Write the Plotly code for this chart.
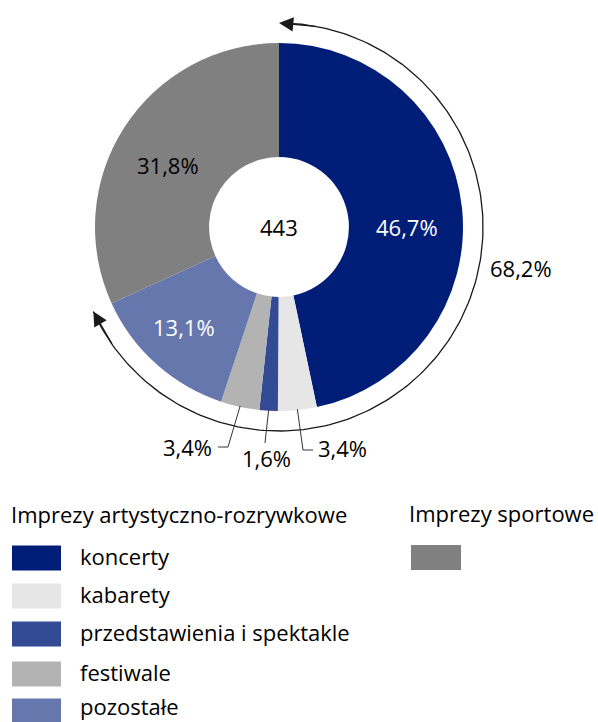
import numpy as np
import plotly.graph_objects as go

# data
categories = ["koncerty", "kabarety", "przedstawienia i spektakle", "festiwale", "pozostałe", "Imprezy sportowe"]
shares = [46.7, 3.4, 1.6, 3.4, 13.1, 31.8]
colors = ["#001e78", "#e6e6e6", "#334a94", "#b3b3b3", "#6677ad", "#808080"]
total_events = 443
group_artistic = "Imprezy artystyczno-rozrywkowe"
group_sport = "Imprezy sportowe"
artistic_share = sum(shares[:5])

FONT = "Open Sans"
FS = 22
W, H = 598, 722
cx, cy, R = 279, 227, 184
hole = 0.38
arc_r = 204


def fmt(v):
    return f"{v:.1f}".replace(".", ",") + "%"


def polar(frac, r):
    # frac = fraction of circle clockwise from 12 o'clock
    a = np.pi / 2 - 2 * np.pi * frac
    return cx + r * np.cos(a), cy - r * np.sin(a)


fig = go.Figure()
fig.add_trace(go.Pie(
    labels=categories, values=shares, sort=False, direction="clockwise",
    rotation=0, hole=hole,
    marker=dict(colors=colors, line=dict(width=0)),
    textinfo="none",
    domain=dict(x=[(cx - R) / W, (cx + R) / W], y=[1 - (cy + R) / H, 1 - (cy - R) / H]),
    showlegend=False, hoverinfo="label+value",
))

# arc over the artistic group
t = np.linspace(0.004, artistic_share / 100, 200)
ax_, ay_ = polar(t, arc_r)
fig.add_trace(go.Scatter(x=ax_, y=ay_, mode="lines", line=dict(color="#1a1a1a", width=1.3),
                         showlegend=False, hoverinfo="skip"))

annotations = []
for tip, tail in [(0.0, 0.03), (artistic_share / 100, artistic_share / 100 - 0.03)]:
    tx, ty = polar(tip, arc_r)
    bx, by = polar(tail, arc_r)
    annotations.append(dict(x=tx, y=ty, ax=bx, ay=by, xref="x", yref="y", axref="x", ayref="y",
                            showarrow=True, arrowhead=2, arrowsize=2.2, arrowwidth=1.3,
                            arrowcolor="#1a1a1a", text="", standoff=0))

annotations.append(dict(x=488, y=268, xref="x", yref="y", text=fmt(artistic_share), showarrow=False,
                        xanchor="left", font=dict(family=FONT, size=FS, color="black")))
annotations.append(dict(x=cx, y=cy, xref="x", yref="y", text=str(total_events), showarrow=False,
                        font=dict(family=FONT, size=FS, color="black")))

# labels inside the large slices
inside_pos = {0: ((407, 227), "white"), 4: ((184, 327), "white"), 5: ((168, 165), "black")}
for i, (pos, col) in inside_pos.items():
    annotations.append(dict(x=pos[0], y=pos[1], xref="x", yref="y", text=fmt(shares[i]),
                            showarrow=False, font=dict(family=FONT, size=FS, color=col)))

# small slices: leader lines and outside labels
shapes = []
cum = np.cumsum([0] + shares)
leader = {1: dict(bend=(303, 450), end=(313, 450), lab=(316, 448), anchor="left"),
          2: dict(bend=(265, 443), end=None, lab=(266, 458), anchor="center"),
          3: dict(bend=(228, 447), end=(218, 447), lab=(214, 447), anchor="right")}
for i, cfg in leader.items():
    mid = (cum[i] + shares[i] / 2) / 100
    sx, sy = polar(mid, R - 1)
    pts = [(sx, sy), cfg["bend"]] + ([cfg["end"]] if cfg["end"] else [])
    path = "M " + " L ".join(f"{px},{py}" for px, py in pts)
    shapes.append(dict(type="path", path=path, xref="x", yref="y",
                       line=dict(color="#333333", width=1)))
    annotations.append(dict(x=cfg["lab"][0], y=cfg["lab"][1], xref="x", yref="y", text=fmt(shares[i]),
                            showarrow=False, xanchor=cfg["anchor"],
                            font=dict(family=FONT, size=FS, color="black")))

# custom legend
annotations.append(dict(x=9, y=514, xref="x", yref="y", text=group_artistic, showarrow=False,
                        xanchor="left", font=dict(family=FONT, size=FS, color="black")))
annotations.append(dict(x=407, y=513, xref="x", yref="y", text=group_sport, showarrow=False,
                        xanchor="left", font=dict(family=FONT, size=FS, color="black")))
row_y = [558, 596, 634, 674, 711]
for k in range(5):
    y = row_y[k]
    shapes.append(dict(type="rect", xref="x", yref="y", x0=12, x1=61, y0=y - 12.5, y1=y + 12.5,
                       fillcolor=colors[k], line=dict(width=0)))
    annotations.append(dict(x=78, y=min(y - 2, H - 16), xref="x", yref="y", text=categories[k],
                            showarrow=False, xanchor="left",
                            font=dict(family=FONT, size=FS, color="black")))
shapes.append(dict(type="rect", xref="x", yref="y", x0=411, x1=461, y0=545, y1=570,
                   fillcolor=colors[5], line=dict(width=0)))

fig.update_layout(
    width=W, height=H, margin=dict(l=0, r=0, t=0, b=0),
    paper_bgcolor="white", plot_bgcolor="white",
    xaxis=dict(range=[0, W], visible=False, domain=[0, 1], fixedrange=True),
    yaxis=dict(range=[H, 0], visible=False, domain=[0, 1], fixedrange=True),
    shapes=shapes, annotations=annotations,
    font=dict(family=FONT),
)

fig.write_html("out.html", config={"displayModeBar": False},
               post_script="document.body.style.margin='0';")
